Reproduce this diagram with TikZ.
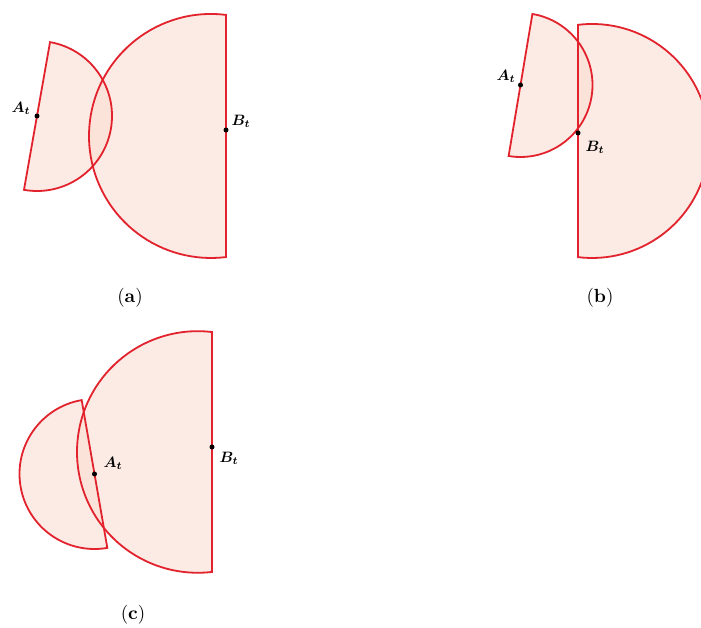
\documentclass[tikz,border=0pt]{standalone}
\usepackage{bm}
\definecolor{edgered}{RGB}{226,34,44}
\definecolor{peach}{RGB}{251,222,210}
\tikzset{
  region/.style={fill=peach, fill opacity=0.6, draw=none},
  outline/.style={draw=edgered, line width=1.8pt, line join=miter, fill=none},
  ptdot/.style={circle, fill=black, inner sep=0pt, minimum size=5pt},
  lab/.style={scale=1.5, transform shape, inner sep=0pt},
  captext/.style={scale=1.9, transform shape, inner sep=0pt}
}
\begin{document}
\begin{tikzpicture}[x=1pt,y=1pt]
\useasboundingbox (0,0) rectangle (701,628);
\clip (0,0) rectangle (701,628);
\fill[white] (0,0) rectangle (701,628);
% centres
\coordinate (Aa) at (37,512);
\coordinate (Ba) at (226,498);
\coordinate (Oa) at (211,492);
\coordinate (Ab) at (520.5,543);
\coordinate (Bb) at (578,495);
\coordinate (Ob) at (592.1,487);
\coordinate (Ac) at (94.5,154);
\coordinate (Bc) at (212,181);
\coordinate (Oc) at (197.8,176);
% path definitions
\def\smallA{(Aa) ++(80:75pt) arc[start angle=80,end angle=-100,radius=75pt] -- cycle}
\def\largeA{(Oa) ++(82.93:122pt) arc[start angle=82.93,end angle=277.07,radius=122pt] -- cycle}
\def\smallB{(Ab) ++(80.5:72pt) arc[start angle=80.5,end angle=-99.5,radius=72pt] -- cycle}
\def\largeB{(Ob) ++(96.93:117pt) arc[start angle=96.93,end angle=-96.93,radius=117pt] -- cycle}
\def\smallC{(Ac) ++(99.85:75pt) arc[start angle=99.85,end angle=279.85,radius=75pt] -- cycle}
\def\largeC{(Oc) ++(83.25:120.8pt) arc[start angle=83.25,end angle=276.75,radius=120.8pt] -- cycle}
% fills
\path[region] \largeA;
\path[region] \smallA;
\path[region] \largeB;
\path[region] \smallB;
\path[region] \largeC;
\path[region] \smallC;
% outlines
\draw[outline] \largeA;
\draw[outline] \smallA;
\draw[outline] \largeB;
\draw[outline] \smallB;
\draw[outline] \largeC;
\draw[outline] \smallC;
% points
\node[ptdot] (pAa) at (Aa) {};
\node[ptdot] (pBa) at (Ba) {};
\node[ptdot] (pAb) at (Ab) {};
\node[ptdot] (pBb) at (Bb) {};
\node[ptdot] (pAc) at (Ac) {};
\node[ptdot] (pBc) at (Bc) {};
% labels
\node[lab] (lAa) at (21,520) {$\bm{A_t}$};
\node[lab] (lBa) at (241,507) {$\bm{B_t}$};
\node[lab] (lAb) at (506,552) {$\bm{A_t}$};
\node[lab] (lBb) at (595,481) {$\bm{B_t}$};
\node[lab] (lAc) at (113,165) {$\bm{A_t}$};
\node[lab] (lBc) at (229,170) {$\bm{B_t}$};
% captions
\node[captext] (capa) at (130,330) {(\textbf{a})};
\node[captext] (capb) at (600,330) {(\textbf{b})};
\node[captext] (capc) at (133,13) {(\textbf{c})};
\end{tikzpicture}
\end{document}
